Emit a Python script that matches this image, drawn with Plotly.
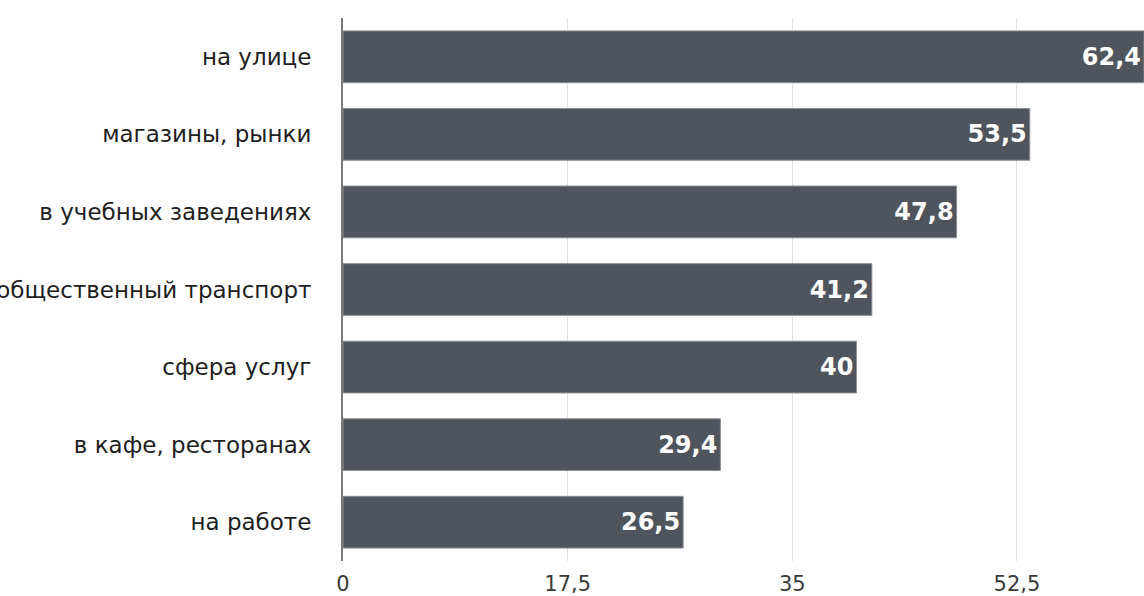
import plotly.graph_objects as go

categories = ["на улице", "магазины, рынки", "в учебных заведениях",
              "общественный транспорт", "сфера услуг", "в кафе, ресторанах", "на работе"]
values = [62.4, 53.5, 47.8, 41.2, 40, 29.4, 26.5]
tick_vals = [0, 17.5, 35, 52.5]
tick_text = ["0", "17,5", "35", "52,5"]

labels = [("%g" % v).replace(".", ",") for v in values]

FONT = "DejaVu Sans, Liberation Sans, Arial, sans-serif"

fig = go.Figure(go.Bar(
    x=values, y=categories, orientation="h",
    marker=dict(color="#50555d", line=dict(color="#8a8d92", width=1)),
    text=labels, textposition="inside", insidetextanchor="end",
    textfont=dict(color="white", size=24, family=FONT, weight="bold"),
    cliponaxis=True,
))

fig.update_layout(
    width=1144, height=596,
    margin=dict(l=343, r=0, t=18, b=32),
    plot_bgcolor="white", paper_bgcolor="white",
    bargap=0.333,
    showlegend=False,
    font=dict(family=FONT, size=21, color="#333333"),
    xaxis=dict(range=[0, 62.4], tickvals=tick_vals, ticktext=tick_text,
               showgrid=True, gridcolor="#e2e2e2", gridwidth=1, zeroline=False,
               showline=False, ticks="", tickfont=dict(size=21, color="#3a3a3a"),
               ticklabelstandoff=8, fixedrange=True),
    yaxis=dict(autorange="reversed", showline=True, linecolor="#7a7a7a", linewidth=2,
               ticks="", ticklabelstandoff=25, automargin=False,
               tickfont=dict(size=23, color="#1e1e1e"), showgrid=False),
)

fig.write_html("out.html", config={"displayModeBar": False},
               post_script="document.body.style.margin='0';document.body.style.overflow='hidden';")
